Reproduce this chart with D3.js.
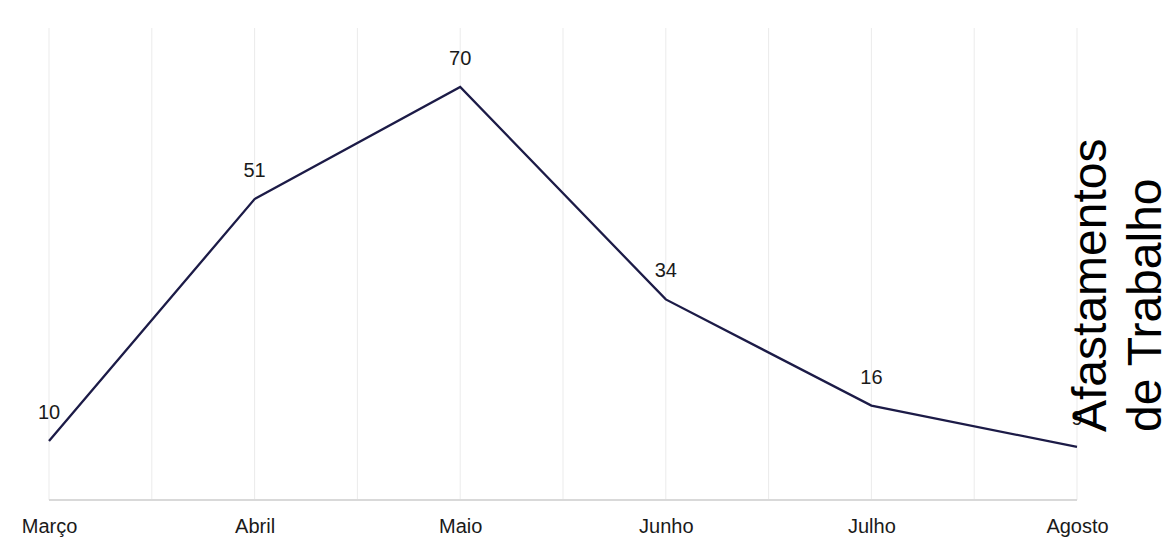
<!DOCTYPE html>
<html>
<head>
<meta charset="utf-8">
<script src="https://cdn.jsdelivr.net/npm/d3@7/dist/d3.min.js"></script>
<style>
  html, body { margin: 0; padding: 0; background: #fff; }
  svg { display: block; font-family: "Liberation Sans", Arial, sans-serif; }
</style>
</head>
<body>
<svg id="chart" width="1171" height="539"></svg>
<script>
// Monthly counts of work leave (afastamentos)
const months = ["Março", "Abril", "Maio", "Junho", "Julho", "Agosto"];
const values = [10, 51, 70, 34, 16, 9];
const titleLines = ["Afastamentos", "de Trabalho"];
const yMax = 80;

const svg = d3.select("#chart");
const plot = { left: 49, right: 1077, top: 28, bottom: 500 };

const x = d3.scalePoint().domain(months).range([plot.left, plot.right]);
const y = d3.scaleLinear().domain([0, yMax]).range([plot.bottom, plot.top]);

// vertical grid: one line per month plus one halfway between months
const half = x.step() / 2;
const gridX = [];
months.forEach((m, i) => {
  gridX.push(x(m));
  if (i < months.length - 1) gridX.push(x(m) + half);
});
svg.append("g")
  .selectAll("line")
  .data(gridX)
  .join("line")
  .attr("x1", d => d).attr("x2", d => d)
  .attr("y1", y(yMax)).attr("y2", y(0))
  .attr("stroke", "#ebebeb")
  .attr("stroke-width", 1);

// baseline
svg.append("line")
  .attr("x1", plot.left).attr("x2", plot.right)
  .attr("y1", y(0)).attr("y2", y(0))
  .attr("stroke", "#d9d9d9")
  .attr("stroke-width", 2);

// month labels
const xAxis = svg.append("g")
  .attr("transform", `translate(0,${y(0)})`)
  .call(d3.axisBottom(x).tickSize(0).tickPadding(19));
xAxis.select(".domain").remove();
xAxis.selectAll("text")
  .attr("font-size", 20)
  .attr("font-family", "Liberation Sans, Arial, sans-serif")
  .attr("fill", "#1a1a1a");

// series line
const data = months.map((m, i) => ({ m, v: values[i] }));
svg.append("path")
  .datum(data)
  .attr("fill", "none")
  .attr("stroke", "#1c1b47")
  .attr("stroke-width", 2.3)
  .attr("stroke-linejoin", "miter")
  .attr("d", d3.line().x(d => x(d.m)).y(d => y(d.v)));

// value labels above each point
svg.append("g")
  .selectAll("text")
  .data(data)
  .join("text")
  .attr("x", d => x(d.m))
  .attr("y", d => y(d.v) - 22)
  .attr("text-anchor", "middle")
  .attr("font-size", 20)
  .attr("fill", "#1a1a1a")
  .text(d => d.v);

// rotated title on the right
const titleX = [1106, 1161];
svg.append("g")
  .selectAll("text")
  .data(titleLines)
  .join("text")
  .attr("transform", (d, i) => `translate(${titleX[i]},432) rotate(-90)`)
  .attr("text-anchor", "start")
  .attr("font-size", 48)
  .attr("fill", "#000")
  .text(d => d);
</script>
</body>
</html>
